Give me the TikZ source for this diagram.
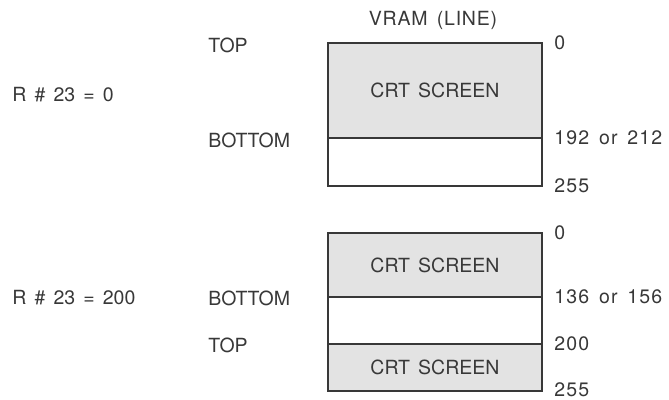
\documentclass[tikz,border=0pt]{standalone}
\usepackage{fontspec}
\setmainfont{TeX Gyre Heros}[WordSpace=1.5]
\usepackage{xcolor}
\definecolor{ink}{gray}{0.22}
\definecolor{screengray}{gray}{0.89}
\usepackage{tikz}
\usetikzlibrary{positioning}
\newcommand{\basefont}{\fontsize{11.1}{13}\selectfont}
\tikzset{every picture/.style={font=\basefont}}

\begin{document}
\begin{tikzpicture}[
  x=0.02cm, y=-0.02cm,
  region/.style={draw=ink, line width=0.7pt, minimum width=4.28cm, inner sep=0pt, outer sep=0pt, text=ink},
  screen/.style={region, fill=screengray},
  lbl/.style={text=ink, inner sep=0pt, anchor=west},
  num/.style={lbl, font=\basefont\addfontfeature{LetterSpace=6}}
]
  \useasboundingbox (0,0) rectangle (669,399);

  % Titre
  \node[lbl, anchor=center, font=\basefont\addfontfeature{LetterSpace=4}] (title) at (433,20) {VRAM (LINE)};

  % Cas R#23 = 0
  \node[screen, anchor=north west, minimum height=1.9cm]
    (scrA) at (328,43) {CRT SCREEN};
  \node[region, below=0pt of scrA, minimum height=0.96cm] (restA) {};

  \node[lbl] (regA) at (12,95) {R \# 23 = 0};
  \node[lbl] (topA) at (208,45) {TOP};
  \node[lbl] (botA) at (208,140) {BOTTOM};

  \node[num, right=0.24cm of scrA.north east] (lineA0) {0};
  \node[num, right=0.24cm of scrA.south east] (lineA1) {192 or 212};
  \node[num, right=0.24cm of restA.south east] (lineA2) {255};

  % Cas R#23 = 200
  \node[screen, anchor=north west, minimum height=1.28cm]
    (scrB) at (328,233) {CRT SCREEN};
  \node[region, below=0pt of scrB, minimum height=0.94cm] (gapB) {};
  \node[screen, below=0pt of gapB, minimum height=0.94cm] (scrC) {CRT SCREEN};

  \node[lbl] (regB) at (12,298) {R \# 23 = 200};
  \node[lbl] (botB) at (208,298) {BOTTOM};
  \node[lbl] (topB) at (208,345) {TOP};

  \node[num, right=0.24cm of scrB.north east] (lineB0) {0};
  \node[num, right=0.24cm of scrB.south east] (lineB1) {136 or 156};
  \node[num, right=0.24cm of scrC.north east] (lineB2) {200};
  \node[num, right=0.24cm of scrC.south east, yshift=0.03cm] (lineB3) {255};

\end{tikzpicture}
\end{document}
